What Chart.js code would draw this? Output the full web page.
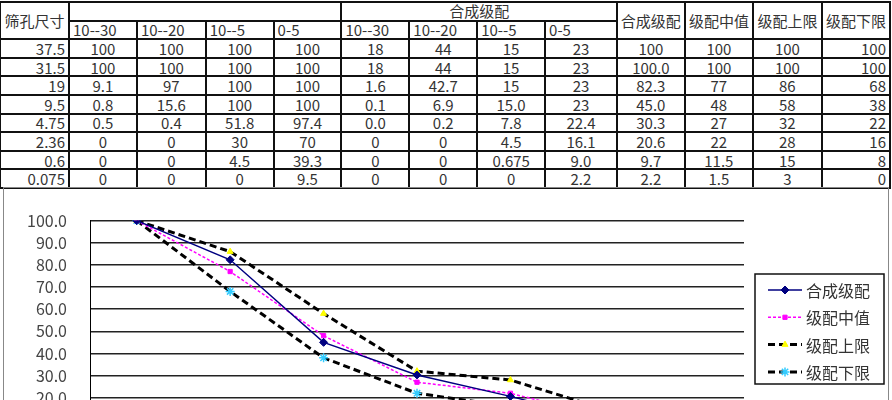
<!DOCTYPE html>
<html>
<head>
<meta charset="utf-8">
<script src="https://cdn.jsdelivr.net/npm/chart.js@4/dist/chart.umd.min.js"></script>
<style>
  html, body { margin: 0; padding: 0; background: #fff; overflow: hidden; width: 892px; height: 400px; }
  body { font-family: "Noto Sans CJK SC", "Noto Sans", sans-serif; color: #333; }
  #grade-table {
    position: absolute; left: -1px; top: 1px;
    border-collapse: collapse; table-layout: fixed;
    font-size: 15px; line-height: 1;
  }
  #grade-table td { border: 2px solid #111; padding: 0 3px; white-space: nowrap; overflow: hidden; height: 16.6px; }
  #grade-table td.c { text-align: center; }
  #grade-table td.r { text-align: right; }
  #grade-table td.l { text-align: left; }
  #grade-table td.top { vertical-align: top; }
  #chart-box {
    position: absolute; left: 3px; top: 187px;
    width: 884px; height: 300px;
    border: 1px solid #888;
  }
</style>
</head>
<body>
<table id="grade-table"></table>
<div id="chart-box"><canvas id="grade-chart"></canvas></div>
<script>
const colWidths = [69, 68, 69, 68, 68, 68, 68, 68, 72, 68, 68, 69, 67];

const sieveTitle = '筛孔尺寸';
const mixTitle = '合成级配';
const materials = ['10--30', '10--20', '10--5', '0-5'];
const resultTitles = ['合成级配', '级配中值', '级配上限', '级配下限'];

const sieveSizes = ['37.5', '31.5', '19', '9.5', '4.75', '2.36', '0.6', '0.075'];

// passing % of each material
const pass10_30 = ['100', '100', '9.1', '0.8', '0.5', '0', '0', '0'];
const pass10_20 = ['100', '100', '97', '15.6', '0.4', '0', '0', '0'];
const pass10_5 = ['100', '100', '100', '100', '51.8', '30', '4.5', '0'];
const pass0_5 = ['100', '100', '100', '100', '97.4', '70', '39.3', '9.5'];

// weighted contribution in the mix
const mix10_30 = ['18', '18', '1.6', '0.1', '0.0', '0', '0', '0'];
const mix10_20 = ['44', '44', '42.7', '6.9', '0.2', '0', '0', '0'];
const mix10_5 = ['15', '15', '15', '15.0', '7.8', '4.5', '0.675', '0'];
const mix0_5 = ['23', '23', '23', '23', '22.4', '16.1', '9.0', '2.2'];

const synthetic = ['100', '100.0', '82.3', '45.0', '30.3', '20.6', '9.7', '2.2'];
const midValues = ['100', '100', '77', '48', '27', '22', '11.5', '1.5'];
const upperLimits = ['100', '100', '86', '58', '32', '28', '15', '3'];
const lowerLimits = ['100', '100', '68', '38', '22', '16', '8', '0'];

const yTicks = [0, 10, 20, 30, 40, 50, 60, 70, 80, 90, 100];

function renderTable() {
  const table = document.getElementById('grade-table');
  const cols = colWidths.map(w => `<col style="width:${w}px">`).join('');
  const head1 =
    `<tr><td rowspan="2" class="c">${sieveTitle}</td>` +
    `<td colspan="4"></td>` +
    `<td colspan="4" class="c top">${mixTitle}</td>` +
    resultTitles.map(t => `<td rowspan="2" class="c">${t}</td>`).join('') +
    `</tr>`;
  const head2 = `<tr>${materials.concat(materials).map(m => `<td class="l">${m}</td>`).join('')}</tr>`;
  const columns = [pass10_30, pass10_20, pass10_5, pass0_5, mix10_30, mix10_20, mix10_5, mix0_5,
    synthetic, midValues, upperLimits];
  const body = sieveSizes.map((s, i) =>
    `<tr><td class="r">${s}</td>` +
    columns.map(c => `<td class="c">${c[i]}</td>`).join('') +
    `<td class="r">${lowerLimits[i]}</td></tr>`
  ).join('');
  table.innerHTML = `<colgroup>${cols}</colgroup><tbody>${head1}${head2}${body}</tbody>`;
}

// boxed legend on the right, line sample + marker + label
const boxLegend = {
  id: 'boxLegend',
  afterDraw(chart) {
    const ctx = chart.ctx;
    const left = chart.chartArea.right + 11;
    const top = 86;
    const w = 129, h = 110;
    ctx.save();
    ctx.strokeStyle = '#111';
    ctx.lineWidth = 1.5;
    ctx.strokeRect(left, top, w, h);
    chart.data.datasets.forEach((ds, i) => {
      const y = top + 16 + i * 27.3;
      ctx.beginPath();
      ctx.setLineDash(ds.borderDash || []);
      ctx.strokeStyle = ds.borderColor;
      ctx.lineWidth = ds.borderWidth;
      ctx.moveTo(left + 13, y);
      ctx.lineTo(left + 47, y);
      ctx.stroke();
      ctx.setLineDash([]);
      ctx.fillStyle = ds.pointBackgroundColor;
      ctx.strokeStyle = ds.pointBorderColor;
      ctx.lineWidth = ds.pointBorderWidth;
      Chart.helpers.drawPoint(ctx, {
        pointStyle: ds.pointStyle, radius: ds.pointRadius,
        borderWidth: ds.pointBorderWidth, rotation: 0
      }, left + 30, y);
      ctx.fillStyle = '#333';
      ctx.font = '16px "Noto Sans CJK SC"';
      ctx.textBaseline = 'middle';
      ctx.textAlign = 'left';
      ctx.fillText(ds.label, left + 51, y + 1);
    });
    ctx.restore();
  }
};

function renderChart() {
  const ctx = document.getElementById('grade-chart').getContext('2d');
  const toNum = arr => arr.slice(1).map(Number);

  new Chart(ctx, {
    type: 'line',
    data: {
      labels: sieveSizes.slice(1),
      datasets: [
        {
          label: resultTitles[0],
          data: toNum(synthetic),
          borderColor: '#000080',
          borderWidth: 1.5,
          pointStyle: 'rectRot',
          pointRadius: 4,
          pointBackgroundColor: '#000080',
          pointBorderColor: '#000080',
          pointBorderWidth: 1
        },
        {
          label: resultTitles[1],
          data: toNum(midValues),
          borderColor: '#FF00FF',
          borderWidth: 1.5,
          borderDash: [3, 2],
          pointStyle: 'rect',
          pointRadius: 3,
          pointBackgroundColor: '#FF00FF',
          pointBorderColor: '#FF00FF',
          pointBorderWidth: 1
        },
        {
          label: resultTitles[2],
          data: toNum(upperLimits),
          borderColor: '#000',
          borderWidth: 3,
          borderDash: [7, 4],
          pointStyle: 'triangle',
          pointRadius: 3.5,
          pointBackgroundColor: '#FFFF00',
          pointBorderColor: '#FFFF00',
          pointBorderWidth: 1
        },
        {
          label: resultTitles[3],
          data: toNum(lowerLimits),
          borderColor: '#000',
          borderWidth: 3,
          borderDash: [7, 4],
          pointStyle: 'star',
          pointRadius: 4.5,
          pointBackgroundColor: '#33CCFF',
          pointBorderColor: '#33CCFF',
          pointBorderWidth: 1.5
        }
      ]
    },
    options: {
      responsive: true,
      maintainAspectRatio: false,
      animation: false,
      layout: { padding: { top: 30, right: 144, bottom: 16, left: 0 } },
      plugins: {
        legend: { display: false },
        tooltip: { enabled: false }
      },
      elements: { line: { tension: 0 } },
      scales: {
        x: {
          offset: true,
          grid: { display: false, offset: true },
          border: { display: true, color: '#000' },
          ticks: { color: '#333', font: { size: 16, family: 'Noto Sans CJK SC' } },
          afterFit(axis) { axis.height = 30; }
        },
        y: {
          min: 0,
          max: 100,
          afterBuildTicks(axis) { axis.ticks = yTicks.map(v => ({ value: v })); },
          grid: { color: '#222', lineWidth: 1.5, drawTicks: false },
          border: { display: true, color: '#000', width: 1 },
          ticks: {
            autoSkip: false,
            padding: 23,
            color: '#444',
            font: { size: 16, family: 'Noto Sans CJK SC' },
            callback: function(value) { return value.toFixed(1); }
          },
          afterFit(axis) { axis.width = 86; }
        }
      }
    },
    plugins: [boxLegend]
  });
}

document.addEventListener('DOMContentLoaded', function() {
  renderTable();
  renderChart();
});
</script>
</body>
</html>
